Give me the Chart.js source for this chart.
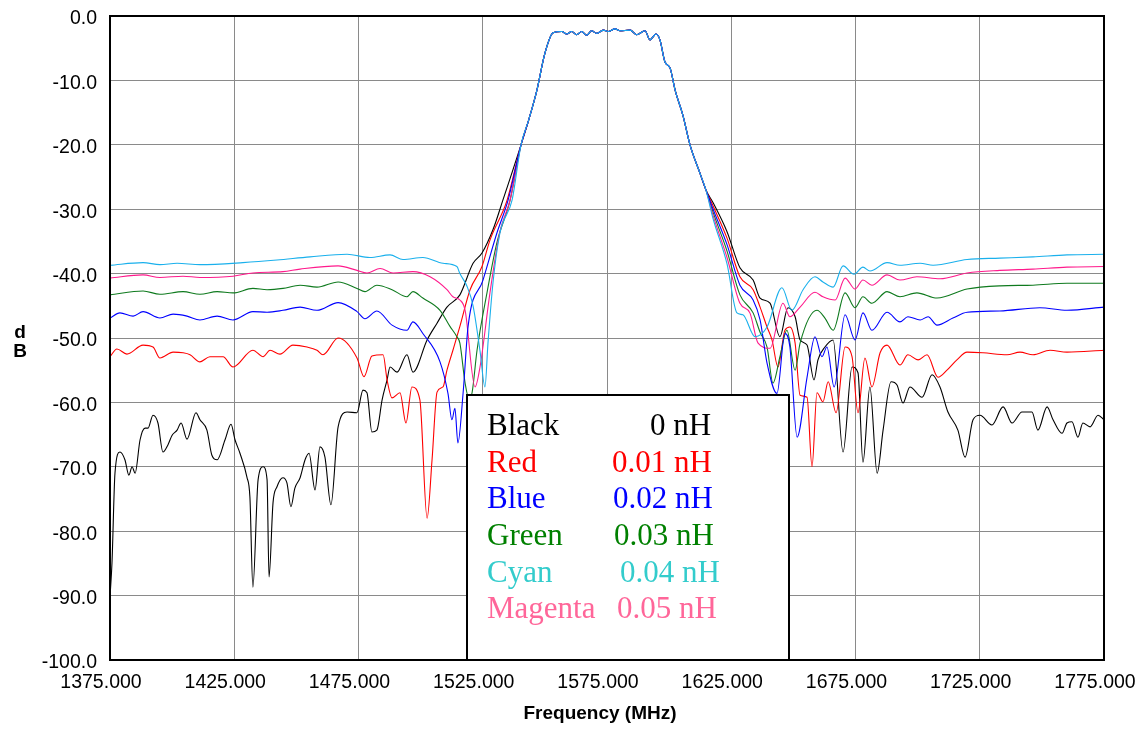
<!DOCTYPE html>
<html lang="en">
<head>
  <meta charset="UTF-8">
  <title>Frequency response vs inductance</title>
  <style>
    body { margin: 0; background: #fff; }
    #wrap { width: 1146px; height: 729px; }
  </style>
</head>
<body>
<div id="wrap"><canvas id="chart" width="1146" height="729"></canvas></div>
<script src="https://cdn.jsdelivr.net/npm/chart.js"></script>
<script>

// common passband (all six traces overlap here)
const passFreq = [1540.4,1543.6,1546.8,1550.0,1553.3,1556.8,1558.8,1560.8,1562.8,1564.8,1566.8,1568.8,1570.9,1573.5,1575.5,1578.2,1580.2,1584.3,1586.9,1590.3,1592.3,1594.7,1596.3,1598.3,1600.4,1602.4,1605.6,1608.4,1612.4,1614.8];
const passDb = [-20,-16,-11.5,-5.8,-2.6,-2.4,-2.8,-2.4,-2.9,-2.4,-3.0,-2.3,-2.7,-2.2,-2.4,-2.0,-2.3,-2.2,-2.9,-2.3,-3.7,-2.8,-3.7,-7.1,-8.1,-11.5,-15.5,-20,-24.4,-27.0];

// Black, 0 nH
const blackFreqL = [1375,1375.8,1377.0,1379.0,1381.0,1382.6,1383.9,1385.1,1387.1,1389.1,1390.3,1392.3,1394.3,1396.3,1398.3,1400.0,1402.0,1403.6,1406.0,1409.6,1411.2,1414.0,1416.0,1418.1,1421.3,1423.7,1425.3,1427.3,1430.1,1431.3,1432.5,1434.6,1436.6,1438.2,1439.0,1440.6,1442.2,1444.6,1446.2,1447.8,1449.4,1451.5,1453.5,1455.1,1457.5,1459.5,1461.5,1463.9,1466.8,1470.4,1474.4,1476.8,1478.4,1480.4,1482.4,1484.5,1486.5,1487.7,1490.5,1494.5,1496.9,1502.6,1506.6,1510.6,1515.8,1521.1,1524.7,1529.1,1533.1];
const blackDbL = [-90.2,-84.9,-71.0,-67.7,-68.9,-71.3,-70.0,-71.0,-65.8,-64.0,-64.0,-62.0,-63.2,-67.7,-66.6,-65.1,-64.3,-63.2,-65.7,-61.6,-62.7,-64.3,-68.2,-68.9,-65.8,-63.4,-65.8,-67.9,-71.6,-74.7,-88.7,-72.0,-70.0,-72.0,-87.1,-75.6,-73.1,-71.7,-72.5,-76.2,-73.3,-71.7,-68.9,-67.9,-73.6,-66.9,-68.5,-75.9,-63.8,-61.5,-61.6,-58.1,-58.5,-64.6,-64.3,-59.6,-56.5,-54.5,-55.3,-52.6,-55.3,-50.3,-47.7,-45.2,-43.3,-38.4,-36.8,-33.2,-28.6];
const blackFreqR = [1617.7,1623.3,1628.5,1633.8,1636.6,1640.6,1644.6,1647.8,1650.7,1652.7,1655.5,1658.3,1659.9,1662.7,1666.0,1670.0,1673.6,1676.0,1678.0,1680.8,1683.7,1686.1,1689.3,1691.7,1694.1,1696.9,1701.8,1705.8,1709.0,1712.2,1716.2,1719.1,1722.3,1725.1,1729.9,1734.4,1738.0,1742.0,1746.0,1748.4,1752.1,1754.5,1758.1,1760.1,1762.1,1764.5,1766.5,1769.4,1772.6,1775];
const blackDbR = [-29.0,-33.5,-39.1,-41.0,-43.8,-44.6,-49.8,-45.3,-46.7,-50.3,-51.1,-56.5,-53.4,-51.4,-50.3,-67.7,-54.5,-55.4,-69.3,-57.6,-71.0,-64.3,-56.8,-57.3,-60.1,-57.6,-59.2,-55.7,-57.6,-61.5,-64.3,-68.5,-62.7,-62.0,-63.5,-60.7,-63.2,-61.5,-61.5,-64.3,-60.7,-62.7,-64.8,-63.2,-63.0,-65.4,-63.2,-63.8,-62.0,-62.7];

// Red, 0.01 nH
const redFreqL = [1375,1377.8,1381.8,1388.3,1392.3,1395.1,1400.4,1404.4,1407.2,1411.2,1415.2,1420.5,1424.5,1432.5,1436.6,1439.4,1443.4,1448.6,1454.3,1458.3,1460.7,1466.8,1474.4,1477.2,1480.4,1484.9,1486.5,1488.5,1491.7,1494.1,1496.5,1499.7,1502.6,1504.6,1506.6,1509.0,1510.6,1513.0,1515.8,1519.9,1524.7,1527.9,1534.8];
const redDbL = [-52.9,-51.7,-52.5,-51.1,-51.4,-53.1,-52.2,-52.3,-52.6,-53.7,-52.9,-52.9,-54.5,-51.9,-52.9,-51.9,-52.5,-51.1,-51.4,-51.9,-52.6,-50.0,-53.1,-56.0,-52.8,-52.6,-56.5,-59.3,-58.5,-63.2,-57.6,-59.6,-78.0,-68.9,-58.4,-57.6,-55.0,-51.9,-48.2,-42.5,-38.9,-34.8,-28.6];
const redFreqR = [1617.7,1623.3,1628.5,1633.8,1636.6,1639.4,1641.4,1643.8,1646.6,1648.6,1650.7,1652.7,1655.5,1657.5,1659.5,1661.9,1664.0,1667.2,1670.8,1673.6,1676.0,1678.8,1681.6,1684.9,1687.7,1692.9,1696.1,1700.2,1703.8,1708.2,1711.8,1715.8,1719.9,1726.3,1736.0,1741.2,1746.4,1753.3,1760.1,1775];
const redDbR = [-29.5,-34.5,-40.5,-42.5,-45.2,-48.3,-50.3,-54.5,-48.8,-48.3,-50.8,-58.9,-59.2,-70.0,-58.5,-59.9,-56.8,-61.6,-51.4,-52.9,-61.6,-53.1,-57.6,-52.3,-51.1,-54.2,-52.6,-53.4,-52.6,-56.1,-55.0,-53.4,-52.2,-52.3,-52.6,-52.2,-52.6,-51.9,-52.2,-51.9];

// Blue, 0.02 nH
const blueFreqL = [1375,1379.0,1384.3,1388.3,1395.1,1400.4,1406.0,1411.2,1418.1,1424.5,1432.5,1438.2,1444.6,1451.5,1458.3,1466.8,1474.4,1477.6,1482.4,1488.5,1494.5,1496.9,1500.9,1507.8,1511.0,1512.6,1513.8,1515.0,1517.1,1519.1,1525.1,1530.7,1535.2];
const blueDbL = [-46.9,-46.1,-46.6,-45.9,-46.9,-46.3,-46.6,-47.2,-46.6,-47.2,-45.9,-46.0,-45.7,-45.2,-45.7,-44.5,-45.9,-47.0,-45.8,-48.0,-48.8,-47.5,-49.3,-53.7,-58.6,-62.7,-60.9,-66.3,-58.5,-48.2,-41.0,-33.7,-28.6];
const blueFreqR = [1617.7,1623.3,1628.5,1633.8,1636.6,1639.4,1643.4,1646.6,1648.6,1651.5,1655.5,1658.7,1661.5,1663.5,1666.4,1670.8,1674.8,1678.0,1681.6,1687.7,1692.9,1696.1,1701.0,1704.2,1707.8,1714.2,1719.9,1733.1,1749.2,1760.1,1775];
const blueDbR = [-30.0,-35.5,-41.8,-44.1,-47.2,-53.9,-58.6,-49.3,-51.4,-65.4,-56.1,-49.8,-52.9,-51.4,-57.6,-46.4,-50.3,-46.1,-48.8,-46.0,-47.5,-46.7,-47.2,-46.7,-48.0,-46.9,-46.0,-45.8,-45.3,-45.7,-45.2];

// Green, 0.03 nH
const greenFreqL = [1375,1388.3,1395.1,1404.4,1411.2,1418.1,1424.5,1432.5,1438.2,1444.6,1451.5,1458.3,1466.8,1474.4,1477.6,1482.4,1488.5,1494.5,1496.9,1500.9,1507.8,1511.8,1514.6,1515.8,1517.9,1519.5,1520.7,1522.7,1526.7,1530.7,1536.0];
const greenDbL = [-43.3,-42.7,-43.2,-42.8,-43.2,-42.8,-43.0,-42.3,-42.5,-42.3,-41.8,-42.1,-41.3,-42.3,-42.8,-41.8,-42.5,-43.6,-42.8,-43.8,-45.7,-48.2,-49.8,-50.8,-57.0,-59.5,-58.5,-51.9,-43.0,-35.2,-28.6];
const greenFreqR = [1617.7,1623.3,1628.5,1633.8,1636.6,1639.4,1641.8,1644.6,1647.4,1650.7,1652.7,1659.5,1662.7,1666.0,1670.8,1674.8,1678.0,1681.6,1687.7,1692.9,1699.7,1707.8,1719.9,1733.1,1746.4,1760.1,1775];
const greenDbR = [-30.5,-36.5,-43.3,-46.1,-49.1,-51.4,-57.0,-52.9,-48.8,-55.0,-50.8,-45.7,-46.9,-48.8,-43.0,-45.3,-43.6,-44.6,-42.8,-43.6,-43.0,-43.8,-42.4,-41.9,-41.8,-41.5,-41.5];

// Cyan, 0.04 nH
const cyanFreqL = [1375,1388.3,1395.1,1402.0,1411.2,1428.5,1442.2,1455.5,1470.4,1479.6,1487.7,1492.9,1500.9,1509.0,1514.6,1515.8,1518.7,1521.1,1523.9,1525.9,1527.1,1529.1,1531.9,1536.8];
const cyanDbL = [-38.7,-38.3,-38.6,-38.4,-38.6,-38.3,-37.9,-37.4,-37.0,-37.5,-37.1,-37.8,-37.5,-38.4,-38.9,-40.0,-42.0,-45.0,-52.0,-57.6,-50.8,-41.5,-33.7,-28.6];
const cyanFreqR = [1617.7,1623.3,1627.3,1629.7,1634.6,1639.4,1645.4,1649.4,1653.9,1658.7,1661.9,1666.0,1670.0,1674.4,1678.0,1680.8,1687.7,1692.9,1701.0,1706.2,1719.9,1733.1,1746.4,1760.1,1775];
const cyanDbR = [-31.5,-38.5,-46.1,-46.4,-49.8,-48.3,-42.2,-45.7,-42.5,-40.5,-41.3,-42.1,-38.8,-40.1,-39.0,-39.6,-38.3,-38.7,-38.4,-38.7,-37.8,-37.6,-37.4,-37.1,-37.0];

// Magenta, 0.05 nH
const magentaFreqL = [1375,1388.3,1395.1,1404.4,1411.2,1424.5,1432.5,1444.6,1451.5,1466.8,1474.4,1478.4,1483.7,1488.9,1496.9,1503.8,1510.6,1513.0,1515.8,1517.9,1521.9,1523.9,1527.9,1531.9,1536.0];
const magentaDbL = [-40.7,-40.2,-40.6,-40.4,-40.6,-40.4,-39.9,-39.7,-39.3,-38.8,-39.5,-39.9,-39.2,-39.9,-39.7,-40.5,-42.5,-43.6,-44.1,-45.7,-57.6,-54.5,-43.0,-33.5,-28.6];
const magentaFreqR = [1617.7,1623.3,1628.5,1632.5,1635.8,1640.6,1645.8,1648.6,1652.7,1658.7,1661.9,1666.8,1670.8,1674.8,1678.0,1681.6,1687.7,1692.9,1699.7,1709.0,1719.9,1733.1,1746.4,1760.1,1775];
const magentaDbR = [-31.0,-37.5,-44.6,-46.1,-50.8,-51.6,-44.6,-46.7,-45.2,-42.9,-43.6,-44.1,-40.7,-42.4,-41.0,-41.8,-40.2,-41.0,-40.5,-40.8,-39.9,-39.5,-39.3,-39.0,-38.9];

const legendNames = ["Black", "Red", "Blue", "Green", "Cyan", "Magenta"];
const legendValues = ["0 nH", "0.01 nH", "0.02 nH", "0.03 nH", "0.04 nH", "0.05 nH"];
const legendColors = ["#000000", "#ff0000", "#0000ff", "#008000", "#33cccc", "#ff6699"];
const lineColors = ["#000000", "#ff0000", "#0000ff", "#0f7a1e", "#1ab0ec", "#ff1a8c"];

function pts(freq, db) {
  return freq.map((f, i) => ({ x: f, y: db[i] }));
}
function trace(fl, dl, fr, dr) {
  return pts(fl, dl).concat(pts(passFreq, passDb), pts(fr, dr));
}

const traces = [
  trace(blackFreqL, blackDbL, blackFreqR, blackDbR),
  trace(redFreqL, redDbL, redFreqR, redDbR),
  trace(blueFreqL, blueDbL, blueFreqR, blueDbR),
  trace(greenFreqL, greenDbL, greenFreqR, greenDbR),
  trace(cyanFreqL, cyanDbL, cyanFreqR, cyanDbR),
  trace(magentaFreqL, magentaDbL, magentaFreqR, magentaDbR)
];
// lower order is painted on top
const drawOrder = [5, 4, 1, 3, 0, 2];

const datasets = traces.map((d, i) => ({
  label: legendNames[i],
  data: d,
  borderColor: lineColors[i],
  borderWidth: 1.1,
  pointRadius: 0,
  fill: false,
  cubicInterpolationMode: "monotone",
  order: drawOrder[i]
}));

const extras = {
  id: "extras",
  afterDatasetsDraw(chart) {
    const ctx = chart.ctx;
    const a = chart.chartArea;
    // legend box
    const bx = 467, by = 395, bw = 322, bh = a.bottom - 395;
    ctx.save();
    ctx.fillStyle = "#fff";
    ctx.fillRect(bx, by, bw, bh);
    ctx.strokeStyle = "#000";
    ctx.lineWidth = 2;
    ctx.strokeRect(bx, by, bw, bh);
    ctx.font = "31px 'Liberation Serif', 'Times New Roman', serif";
    ctx.textBaseline = "alphabetic";
    const valX = [183, 145, 146, 147, 153, 150];
    legendNames.forEach((n, i) => {
      const y = 435 + i * 36.67;
      ctx.fillStyle = legendColors[i];
      ctx.fillText(n, bx + 20, y);
      ctx.fillText(legendValues[i], bx + valX[i], y);
    });
    ctx.restore();
  },
  afterDraw(chart) {
    const ctx = chart.ctx;
    const a = chart.chartArea;
    ctx.save();
    ctx.strokeStyle = "#000";
    ctx.lineWidth = 2;
    ctx.beginPath();
    ctx.moveTo(a.left, a.top);
    ctx.lineTo(a.right, a.top);
    ctx.lineTo(a.right, a.bottom);
    ctx.lineTo(a.left, a.bottom);
    ctx.closePath();
    ctx.stroke();
    ctx.fillStyle = "#000";
    ctx.font = "bold 19px 'Liberation Sans', Arial, sans-serif";
    ctx.textAlign = "center";
    ctx.textBaseline = "alphabetic";
    ctx.fillText("Frequency (MHz)", 600, 719);
    ctx.fillText("d", 20, 338);
    ctx.fillText("B", 20, 357);
    ctx.restore();
  }
};

new Chart(document.getElementById("chart"), {
  type: "line",
  data: { datasets: datasets },
  options: {
    responsive: false,
    animation: false,
    devicePixelRatio: 1,
    layout: { padding: { top: 16, right: 42, left: 0, bottom: 0 } },
    plugins: { legend: { display: false }, tooltip: { enabled: false } },
    scales: {
      x: {
        type: "linear",
        min: 1375,
        max: 1775,
        afterFit: s => { s.height = 69; s.paddingLeft = 0; s.paddingRight = 0; },
        border: { display: false },
        grid: { color: "#8a8a8a", lineWidth: 1, drawTicks: false },
        ticks: {
          stepSize: 50,
          padding: 11,
          labelOffset: -9,
          maxRotation: 0,
          color: "#000",
          font: { family: "'Liberation Sans', Arial, sans-serif", size: 19.5 },
          callback: v => v.toFixed(3)
        }
      },
      y: {
        min: -100,
        max: 0,
        afterFit: s => { s.width = 110; s.paddingTop = 0; s.paddingBottom = 0; },
        border: { display: false },
        grid: { color: "#8a8a8a", lineWidth: 1, drawTicks: false },
        ticks: {
          stepSize: 10,
          padding: 13,
          labelOffset: 3,
          color: "#000",
          font: { family: "'Liberation Sans', Arial, sans-serif", size: 19.5 },
          callback: v => v.toFixed(1)
        }
      }
    }
  },
  plugins: [extras]
});

</script>
</body>
</html>
